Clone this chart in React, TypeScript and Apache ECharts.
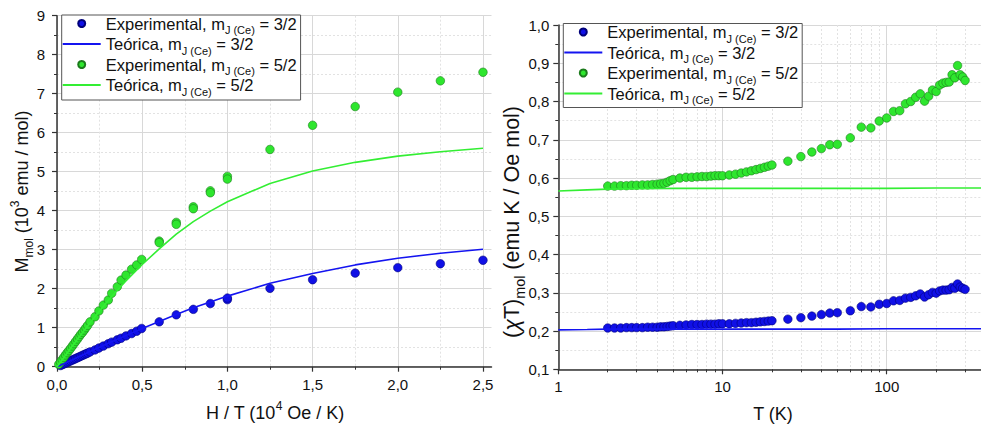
import React, { useEffect, useRef } from 'react';
import * as echarts from 'echarts';

const FONT = '"Liberation Sans", Arial, Helvetica, sans-serif';

// ---------- Left panel: M_mol vs H/T ----------
const leftXMajor = [0, 0.5, 1.0, 1.5, 2.0, 2.5];
const leftXMinor = [0.25, 0.75, 1.25, 1.75, 2.25];

const exp32X = [0.02, 0.03, 0.04, 0.05, 0.06, 0.07, 0.08, 0.09, 0.1, 0.11, 0.12, 0.13, 0.14, 0.15, 0.16, 0.17, 0.18, 0.194, 0.223, 0.246, 0.272, 0.301, 0.321, 0.354, 0.376, 0.405, 0.438, 0.468, 0.497, 0.6, 0.7, 0.8, 0.9, 1.0, 1.0, 1.25, 1.5, 1.75, 2.0, 2.25, 2.5];
const exp32M = [0.03, 0.05, 0.07, 0.09, 0.11, 0.13, 0.15, 0.17, 0.19, 0.21, 0.23, 0.25, 0.27, 0.29, 0.31, 0.33, 0.35, 0.38, 0.43, 0.48, 0.53, 0.59, 0.63, 0.69, 0.73, 0.79, 0.85, 0.91, 0.98, 1.15, 1.33, 1.47, 1.62, 1.72, 1.76, 2.01, 2.23, 2.4, 2.54, 2.64, 2.73];

const exp52X = [0.01, 0.02, 0.03, 0.04, 0.05, 0.06, 0.07, 0.08, 0.09, 0.1, 0.11, 0.12, 0.13, 0.14, 0.15, 0.16, 0.17, 0.18, 0.194, 0.223, 0.246, 0.272, 0.301, 0.321, 0.354, 0.376, 0.405, 0.438, 0.468, 0.497, 0.6, 0.6, 0.7, 0.7, 0.8, 0.8, 0.9, 0.9, 1.0, 1.0, 1.25, 1.5, 1.75, 2.0, 2.25, 2.5];
const exp52M = [0.06, 0.12, 0.18, 0.24, 0.3, 0.36, 0.41, 0.47, 0.53, 0.59, 0.65, 0.71, 0.77, 0.83, 0.88, 0.94, 1.0, 1.06, 1.15, 1.28, 1.43, 1.58, 1.71, 1.88, 2.05, 2.22, 2.35, 2.5, 2.61, 2.75, 3.22, 3.18, 3.7, 3.65, 4.1, 4.05, 4.51, 4.46, 4.88, 4.81, 5.57, 6.19, 6.67, 7.04, 7.33, 7.55];

const theoX = [0, 0.1, 0.2, 0.3, 0.4, 0.5, 0.6, 0.7, 0.8, 0.9, 1.0, 1.25, 1.5, 1.75, 2.0, 2.25, 2.5];
const theo32M = [0, 0.2, 0.4, 0.6, 0.79, 0.98, 1.16, 1.34, 1.51, 1.66, 1.81, 2.14, 2.39, 2.61, 2.78, 2.91, 3.01];
const theo52M = [0, 0.59, 1.16, 1.7, 2.18, 2.62, 3.02, 3.4, 3.72, 3.99, 4.23, 4.7, 5.02, 5.24, 5.4, 5.51, 5.6];

// ---------- Right panel: (chi T)_mol vs T ----------
const rightXMajor = [1, 10, 100];
const rightXMinor = [2, 3, 4, 5, 6, 7, 8, 9, 20, 30, 40, 50, 60, 70, 80, 90, 200, 300];

const tempK = [2.0, 2.2, 2.4, 2.6, 2.8, 3.0, 3.25, 3.5, 3.75, 4.0, 4.2, 4.4, 4.6, 4.8, 5.0, 5.5, 6, 6.5, 7, 7.5, 8, 8.5, 9, 9.5, 10, 11, 12, 13, 14, 15, 16, 17, 18, 19, 20, 25, 30, 35, 40, 45, 50, 60, 70, 80, 90, 100, 110, 120, 130, 140, 150, 160, 170, 180, 190, 200, 210, 220, 230, 240, 250, 260, 270, 280, 290, 300];
const chiT32 = [0.208, 0.208, 0.208, 0.209, 0.209, 0.209, 0.209, 0.21, 0.21, 0.21, 0.211, 0.211, 0.212, 0.213, 0.214, 0.215, 0.216, 0.217, 0.217, 0.217, 0.218, 0.218, 0.218, 0.219, 0.219, 0.219, 0.22, 0.221, 0.222, 0.222, 0.223, 0.224, 0.225, 0.226, 0.227, 0.231, 0.235, 0.239, 0.243, 0.247, 0.248, 0.253, 0.264, 0.263, 0.27, 0.272, 0.279, 0.28, 0.286, 0.288, 0.292, 0.297, 0.289, 0.295, 0.301, 0.299, 0.305, 0.307, 0.307, 0.308, 0.314, 0.312, 0.323, 0.315, 0.312, 0.309];
const chiT52 = [0.579, 0.579, 0.58, 0.58, 0.581, 0.581, 0.582, 0.582, 0.583, 0.584, 0.585, 0.586, 0.589, 0.593, 0.596, 0.6, 0.602, 0.602, 0.603, 0.604, 0.604, 0.605, 0.606, 0.606, 0.606, 0.608, 0.61, 0.613, 0.616, 0.619, 0.622, 0.625, 0.628, 0.631, 0.634, 0.644, 0.656, 0.668, 0.677, 0.687, 0.688, 0.705, 0.733, 0.731, 0.749, 0.757, 0.774, 0.776, 0.794, 0.8, 0.811, 0.82, 0.801, 0.814, 0.83, 0.826, 0.843, 0.848, 0.85, 0.851, 0.87, 0.862, 0.894, 0.87, 0.864, 0.855];

const theoT = [1, 1.5, 2, 3, 5, 10, 20, 50, 100, 200, 375];
const theoChi32 = [0.203, 0.204, 0.205, 0.205, 0.205, 0.205, 0.205, 0.205, 0.206, 0.206, 0.206];
const theoChi52 = [0.566, 0.569, 0.571, 0.572, 0.573, 0.573, 0.573, 0.573, 0.573, 0.574, 0.574];

const seriesNames = ['Exp 3/2', 'Teo 3/2', 'Exp 5/2', 'Teo 5/2'];
const legendLabels: Record<string, string> = {
  'Exp 3/2': '{a|Experimental, m}{s|J (Ce)}{a| = 3/2}',
  'Teo 3/2': '{a|Teórica, m}{s|J (Ce)}{a| = 3/2}',
  'Exp 5/2': '{a|Experimental, m}{s|J (Ce)}{a| = 5/2}',
  'Teo 5/2': '{a|Teórica, m}{s|J (Ce)}{a| = 5/2}',
};

const BLUE_FILL = '#1010e6';
const BLUE_EDGE = '#00007a';
const BLUE_LINE = '#1414f0';
const GREEN_FILL = '#2ee62e';
const GREEN_EDGE = '#1b7a1b';
const GREEN_LINE = '#33ee33';

const AXIS_COLOR = '#333';
const MAJOR_GRID = '#d8d8d8';
const MINOR_GRID = '#e2e2e2';

const zip = (xs: number[], ys: number[]) => xs.map((x, i) => [x, ys[i]]);
const comma1 = (v: number) => v.toFixed(1).replace('.', ',');

export default function App() {
  const ref = useRef<HTMLDivElement>(null);

  useEffect(() => {
    if (!ref.current) return;
    const chart = echarts.init(ref.current, undefined, { renderer: 'svg' });

    const majorAxisCommon = {
      axisLine: { show: true, onZero: false, lineStyle: { color: AXIS_COLOR, width: 1.5 } },
      axisTick: { show: true, length: 5, lineStyle: { color: AXIS_COLOR, width: 1.2 } },
      axisLabel: { color: '#111', fontSize: 15, fontFamily: FONT },
      splitLine: { show: true, lineStyle: { color: MAJOR_GRID, width: 1 } },
    };
    const minorAxisCommon = {
      axisLine: { show: false },
      axisLabel: { show: false },
      splitLine: { show: true, lineStyle: { color: MINOR_GRID, width: 1, type: [2, 2] } },
    };

    const thinBar = 'path://M0,0L38,0L38,1.8L0,1.8Z';
    const legendData = [
      { name: seriesNames[0], icon: 'circle' },
      { name: seriesNames[1], icon: thinBar, itemStyle: { color: BLUE_LINE, borderWidth: 0 }, lineStyle: { color: BLUE_LINE, width: 1.6 } },
      { name: seriesNames[2], icon: 'circle' },
      { name: seriesNames[3], icon: thinBar, itemStyle: { color: GREEN_LINE, borderWidth: 0 }, lineStyle: { color: GREEN_LINE, width: 1.6 } },
    ];

    const legendCommon = {
      orient: 'vertical',
      itemWidth: 38,
      itemHeight: 7,
      itemGap: 0,
      backgroundColor: '#fff',
      borderColor: '#555',
      borderWidth: 1,
      borderRadius: 0,
      padding: [0, 4, 3, 1],
      selectedMode: false,
      data: legendData,
      formatter: (n: string) => legendLabels[n],
      textStyle: {
        color: '#111',
        fontFamily: FONT,
        rich: {
          a: { fontSize: 16.5, lineHeight: 24, fontFamily: FONT, color: '#111' },
          s: { fontSize: 11, lineHeight: 12, verticalAlign: 'bottom', fontFamily: FONT, color: '#111' },
        },
      },
    };

    const mkRich = (size: number) => ({
      a: { fontSize: size, lineHeight: size + 8, fontFamily: FONT, fill: '#111', color: '#111' },
      s: { fontSize: size * 0.67, lineHeight: size * 0.78, verticalAlign: 'bottom', fontFamily: FONT, fill: '#111', color: '#111' },
      p: { fontSize: size * 0.67, lineHeight: size * 0.78, verticalAlign: 'top', fontFamily: FONT, fill: '#111', color: '#111' },
      g: { fontSize: size, lineHeight: size + 8, fontStyle: 'italic', fontFamily: FONT, fill: '#111', color: '#111' },
    });

    const scatter = (name: string, xi: number, yi: number, data: number[][], fill: string, edge: string) => ({
      type: 'scatter', name, xAxisIndex: xi, yAxisIndex: yi, data,
      symbol: 'circle', symbolSize: 8.5,
      itemStyle: { color: fill, borderColor: edge, borderWidth: 0.6, opacity: 1 },
      z: 3,
    });
    const line = (name: string, xi: number, yi: number, data: number[][], color: string) => ({
      type: 'line', name, xAxisIndex: xi, yAxisIndex: yi, data,
      symbol: 'none', showSymbol: false,
      lineStyle: { color, width: 1.6 }, itemStyle: { color },
      z: 4,
    });

    chart.setOption({
      animation: false,
      grid: [
        { left: 57, top: 15.7, width: 434.5, height: 351, containLabel: false },
        { left: 558.3, top: 25, width: 422.7, height: 344.3, containLabel: false },
      ],
      xAxis: [
        {
          ...majorAxisCommon, type: 'value', gridIndex: 0, position: 'bottom', min: 0, max: 2.55,
          axisTick: { ...majorAxisCommon.axisTick, customValues: leftXMajor },
          axisLabel: { ...majorAxisCommon.axisLabel, margin: 10, customValues: leftXMajor, formatter: (v: number) => comma1(v) },
        },
        {
          ...minorAxisCommon, type: 'value', gridIndex: 0, position: 'bottom', min: 0, max: 2.55,
          axisTick: { show: true, length: 3, customValues: leftXMinor, lineStyle: { color: AXIS_COLOR, width: 1 } },
        },
        {
          ...majorAxisCommon, type: 'log', logBase: 10, gridIndex: 1, position: 'bottom', min: 1, max: 375,
          axisTick: { ...majorAxisCommon.axisTick, customValues: rightXMajor },
          axisLabel: { ...majorAxisCommon.axisLabel, margin: 10, customValues: rightXMajor, formatter: (v: number) => String(Math.round(v)) },
        },
        {
          ...minorAxisCommon, type: 'log', logBase: 10, gridIndex: 1, position: 'bottom', min: 1, max: 375,
          axisTick: { show: true, length: 3, customValues: rightXMinor, lineStyle: { color: AXIS_COLOR, width: 1 } },
        },
      ],
      yAxis: [
        {
          ...majorAxisCommon, type: 'value', gridIndex: 0, min: 0, max: 9, interval: 1,
          axisLabel: { ...majorAxisCommon.axisLabel, margin: 12, formatter: (v: number) => String(v) },
          minorTick: { show: true, splitNumber: 2, length: 3, lineStyle: { color: AXIS_COLOR, width: 1 } },
          minorSplitLine: { show: true, lineStyle: { color: MINOR_GRID, width: 1, type: [2, 2] } },
        },
        {
          ...majorAxisCommon, type: 'value', gridIndex: 1, min: 0.1, max: 1.0, interval: 0.1,
          axisLabel: { ...majorAxisCommon.axisLabel, margin: 9, formatter: (v: number) => comma1(v) },
          minorTick: { show: true, splitNumber: 2, length: 3, lineStyle: { color: AXIS_COLOR, width: 1 } },
          minorSplitLine: { show: true, lineStyle: { color: MINOR_GRID, width: 1, type: [2, 2] } },
        },
      ],
      legend: [
        { ...legendCommon, left: 61.7, top: 15 },
        { ...legendCommon, left: 563.3, top: 23.5, padding: [0, 4, 2, 1] },
      ],
      graphic: [
        {
          type: 'text', x: 22, y: 191.5, rotation: Math.PI / 2,
          style: { text: '{a|M}{s|mol}{a| (10}{p|3}{a| emu / mol)}', rich: mkRich(18), align: 'center', verticalAlign: 'middle', fill: '#111' },
        },
        {
          type: 'text', x: 275, y: 413,
          style: { text: '{a|H / T (10}{p|4}{a| Oe / K)}', rich: mkRich(18), align: 'center', verticalAlign: 'middle', fill: '#111' },
        },
        {
          type: 'text', x: 773, y: 414,
          style: { text: '{a|T (K)}', rich: mkRich(18), align: 'center', verticalAlign: 'middle', fill: '#111' },
        },
        {
          type: 'text', x: 512, y: 222, rotation: Math.PI / 2,
          style: { text: '{a|(}{g|χ}{a|T)}{s|mol}{a| (emu K / Oe mol)}', rich: mkRich(21.5), align: 'center', verticalAlign: 'middle', fill: '#111' },
        },
      ],
      series: [
        scatter(seriesNames[0], 0, 0, zip(exp32X, exp32M), BLUE_FILL, BLUE_EDGE),
        line(seriesNames[1], 0, 0, zip(theoX, theo32M), BLUE_LINE),
        scatter(seriesNames[2], 0, 0, zip(exp52X, exp52M), GREEN_FILL, GREEN_EDGE),
        line(seriesNames[3], 0, 0, zip(theoX, theo52M), GREEN_LINE),
        scatter(seriesNames[0], 2, 1, zip(tempK, chiT32), BLUE_FILL, BLUE_EDGE),
        line(seriesNames[1], 2, 1, zip(theoT, theoChi32), BLUE_LINE),
        scatter(seriesNames[2], 2, 1, zip(tempK, chiT52), GREEN_FILL, GREEN_EDGE),
        line(seriesNames[3], 2, 1, zip(theoT, theoChi52), GREEN_LINE),
      ],
    } as any);

    return () => chart.dispose();
  }, []);

  return (
    <div
      ref={ref}
      style={{ position: 'absolute', left: 0, top: 0, width: 981, height: 426, background: '#fff' }}
    />
  );
}
